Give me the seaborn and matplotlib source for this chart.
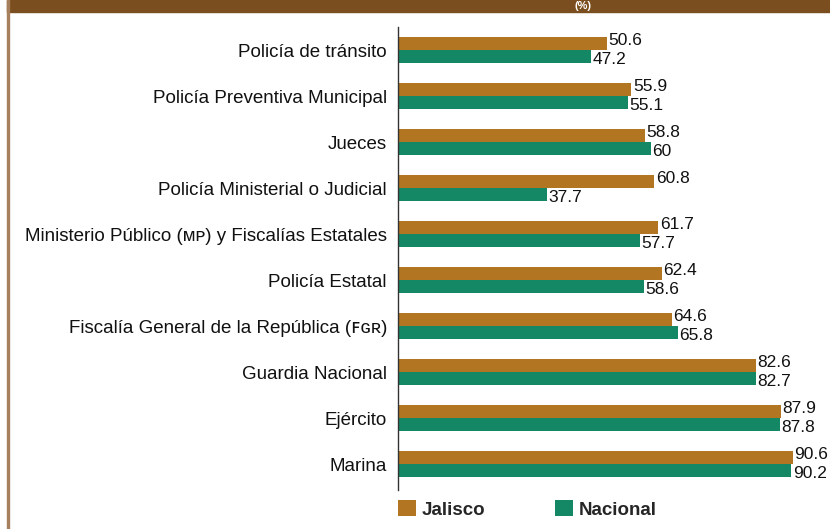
import matplotlib
matplotlib.use("Agg")
import matplotlib.pyplot as plt
from matplotlib.patches import Rectangle
import seaborn as sns
import pandas as pd

categories = [
    "Policía de tránsito",
    "Policía Preventiva Municipal",
    "Jueces",
    "Policía Ministerial o Judicial",
    "Ministerio Público (ᴍᴘ) y Fiscalías Estatales",
    "Policía Estatal",
    "Fiscalía General de la República (ꜰɢʀ)",
    "Guardia Nacional",
    "Ejército",
    "Marina",
]
jalisco = [50.6, 55.9, 58.8, 60.8, 61.7, 62.4, 64.6, 82.6, 87.9, 90.6]
nacional = [47.2, 55.1, 60, 37.7, 57.7, 58.6, 65.8, 82.7, 87.8, 90.2]
series = ["Jalisco", "Nacional"]
colors = ["#B27522", "#148865"]

df = pd.DataFrame({
    "cat": categories * 2,
    "serie": [series[0]] * len(categories) + [series[1]] * len(categories),
    "val": jalisco + nacional,
})

sns.set_theme(style="white")
plt.rcParams["font.family"] = ["Liberation Sans", "DejaVu Sans"]

W, H = 830, 529
fig = plt.figure(figsize=(W / 100, H / 100), dpi=100)
ax = fig.add_axes([398 / W, 1 - 490 / H, (830 - 398) / W, (490 - 27) / H])

sns.barplot(data=df, y="cat", x="val", hue="serie", palette=colors,
            width=0.58, orient="h", saturation=1, ax=ax, legend=True,
            linewidth=0, edgecolor="none")

ax.set_xlim(5.8, 5.8 + 432 / 4.66)
ax.set_ylim(9.565, -0.5)
ax.set_xlabel("")
ax.set_ylabel("")
ax.set_xticks([])
for s in ["top", "right", "bottom"]:
    ax.spines[s].set_visible(False)
ax.spines["left"].set_color("#333333")
ax.spines["left"].set_linewidth(1.0)
ax.tick_params(axis="y", length=0, pad=8, labelsize=13.5, labelcolor="#111111")

for i, cont in enumerate(ax.containers):
    anns = ax.bar_label(cont, fmt="{:g}", padding=1, fontsize=12.5, color="#111111")
    dy = 2 if i == 0 else -2
    for a in anns:
        a.xyann = (1, dy)

leg = ax.legend(loc="upper left", bbox_to_anchor=(0, -0.022), ncol=2, frameon=False,
                handlelength=0.95, handleheight=0.95, handletextpad=0.3,
                columnspacing=3.75, borderaxespad=0, borderpad=0,
                prop={"weight": "bold", "size": 13.5})

# Frame decorations
fig.patches.append(Rectangle((7 / W, 1 - 12 / H), 1, 12 / H, transform=fig.transFigure,
                             color="#7B4E1F", zorder=0))
fig.patches.append(Rectangle((6.5 / W, 0), 2 / W, 1, transform=fig.transFigure,
                             color="#A67F5C", zorder=0))
fig.text(583 / W, 1 - 6 / H, "(%)", color="white", fontsize=8, fontweight="bold",
         ha="center", va="center")

fig.savefig("out.png", dpi=100)
